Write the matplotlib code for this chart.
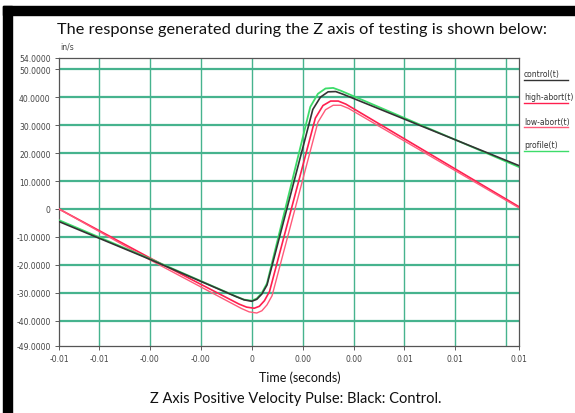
import matplotlib
matplotlib.use("Agg")
import matplotlib.pyplot as plt
from matplotlib.lines import Line2D
from matplotlib.patches import Rectangle

# --- data (time in seconds, velocity in in/s) ---
t_control = [-0.00757, -0.0040, -0.0006, -0.0003, 0.0, 0.0002, 0.0004, 0.0006,
             0.0024, 0.0027, 0.0030, 0.0033, 0.0036, 0.0105]
v_control = [-4.5, -18.0, -31.4, -32.5, -33.0, -32.3, -30.4, -27.2,
             35.6, 40.0, 41.9, 42.0, 41.0, 15.5]

t_profile = [-0.00757, -0.0040, -0.0006, -0.0003, 0.0, 0.0002, 0.0004, 0.0006,
             0.0023, 0.0026, 0.0029, 0.0032, 0.0035, 0.0105]
v_profile = [-4.0, -17.8, -31.3, -32.4, -32.8, -32.0, -30.0, -26.6,
             36.5, 41.2, 43.1, 43.3, 42.3, 15.0]

t_high = [-0.00757, -0.0040, -0.0005, -0.0002, 0.0001, 0.0003, 0.0005, 0.0007,
          0.0025, 0.0028, 0.0031, 0.0034, 0.0037, 0.0105]
v_high = [0.0, -17.5, -34.0, -35.1, -35.5, -34.8, -32.8, -29.5,
          32.5, 37.0, 38.6, 38.6, 37.5, 0.8]

t_low = [-0.00757, -0.0040, -0.0004, -0.0001, 0.0002, 0.0004, 0.0006, 0.0008,
         0.0026, 0.0029, 0.0032, 0.0035, 0.0038, 0.0105]
v_low = [0.0, -18.2, -35.6, -36.8, -37.2, -36.4, -34.3, -31.0,
         31.0, 35.5, 37.1, 37.1, 36.0, 0.4]

series_names = ["control(t)", "high-abort(t)", "low-abort(t)", "profile(t)"]
series_colors = ["#333333", "#ff1f4f", "#ff5a7a", "#3ddc6a"]

x_min, x_max = -0.00757, 0.0105
x_ticks = [x_min, -0.006, -0.004, -0.002, 0.0, 0.002, 0.004, 0.006, 0.008, x_max]
x_labels = ["-0.01", "-0.01", "-0.00", "-0.00", "0", "0.00", "0.00", "0.01", "0.01", "0.01"]
x_grid = [-0.006, -0.004, -0.002, 0.0, 0.002, 0.004, 0.006, 0.008, 0.010]

y_ticks = [54, 50, 40, 30, 20, 10, 0, -10, -20, -30, -40, -49]
y_labels = ["54.0000", "50.0000", "40.0000", "30.0000", "20.0000", "10.0000", "0",
            "-10.0000", "-20.0000", "-30.0000", "-40.0000", "-49.0000"]
y_grid = [50, 40, 30, 20, 10, 0, -10, -20, -30, -40]

W, H = 575, 414
fig = plt.figure(figsize=(W / 100, H / 100), dpi=100)

def px(x, y):
    return x / W, 1 - y / H

# black frame (left and top edges)
frame = [(3, 7, 572, 9), (3, 7, 9, 407)]
for x0, y0, w, h in frame:
    fig.patches.append(Rectangle((x0 / W, 1 - (y0 + h) / H), w / W, h / H,
                                 transform=fig.transFigure, color="black", zorder=0))

left, right, top, bottom = 59, 519, 59, 347
ax = fig.add_axes([left / W, 1 - bottom / H, (right - left) / W, (bottom - top) / H])

grid_color = "#46b38e"
for g in y_grid:
    ax.axhline(g, color=grid_color, lw=1.6, zorder=1)
for g in x_grid:
    ax.axvline(g, color=grid_color, lw=1.0, zorder=1)

ax.plot(t_high, v_high, color=series_colors[1], lw=1.2, zorder=3)
ax.plot(t_low, v_low, color=series_colors[2], lw=1.0, zorder=3)
ax.plot(t_profile, v_profile, color=series_colors[3], lw=1.3, zorder=3)
ax.plot(t_control, v_control, color=series_colors[0], lw=1.2, zorder=4)

ax.set_xlim(x_min, x_max)
ax.set_ylim(-49, 54)
ax.set_xticks(x_ticks)
ax.set_xticklabels(x_labels)
ax.set_yticks(y_ticks)
ax.set_yticklabels(y_labels)
ax.tick_params(labelsize=5.5, colors="#444444", length=3, width=0.6, pad=3)
for s in ax.spines.values():
    s.set_color("#555555")
    s.set_linewidth(0.9)

fig.text(*px(67, 47), "in/s", fontsize=5.5, color="#444444", ha="center", va="center")

# legend on the right
leg_y = [75, 98, 122, 146]
for name, col, y in zip(series_names, series_colors, leg_y):
    fig.text(*px(524, y), name, fontsize=5.5, color="#333333", ha="left", va="center")
    x0, y0 = px(524, y + 6)
    x1, _ = px(568, y + 6)
    fig.lines.append(Line2D([x0, x1], [y0, y0], transform=fig.transFigure,
                            color=col, lw=1.0))

fig.text(*px(302, 30), "The response generated during the Z axis of testing is shown below:",
         fontsize=11.8, family="Lato", ha="center", va="center", color="#111111")
fig.text(*px(300, 378), "Time (seconds)", fontsize=9, family="Lato",
         ha="center", va="center", color="#111111")
fig.text(*px(296, 399), "Z Axis Positive Velocity Pulse: Black: Control.", fontsize=10.5,
         family="Lato", ha="center", va="center", color="#111111")

fig.savefig("out.png", dpi=100, facecolor="white")
